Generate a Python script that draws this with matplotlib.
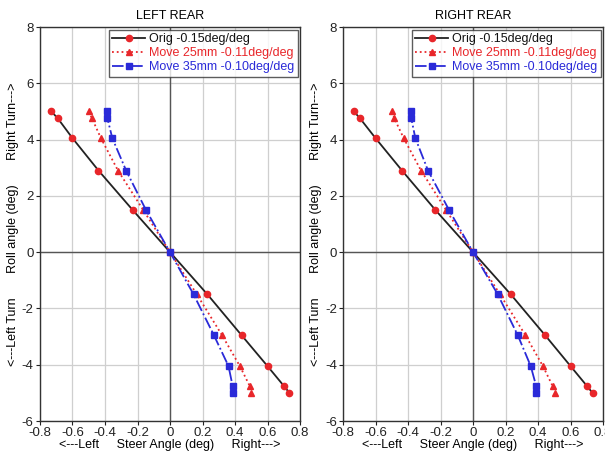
import numpy as np
import matplotlib
matplotlib.use('Agg')
import matplotlib.pyplot as plt

plt.rcParams['font.family'] = ['Liberation Sans', 'DejaVu Sans']
plt.rcParams['axes.unicode_minus'] = False

# Roll angle (deg), shared by all series
roll = [5.0, 4.75, 4.05, 2.9, 1.5, 0.0, -1.5, -2.95, -4.05, -4.75, -5.0]

# Steer angle (deg), left rear
lr_orig = [-0.73, -0.69, -0.60, -0.44, -0.23, 0.0, 0.23, 0.44, 0.60, 0.70, 0.735]
lr_m25 = [-0.50, -0.48, -0.425, -0.32, -0.165, 0.0, 0.165, 0.32, 0.43, 0.49, 0.50]
lr_m35 = [-0.39, -0.385, -0.355, -0.27, -0.148, 0.0, 0.145, 0.27, 0.36, 0.385, 0.39]

# Steer angle (deg), right rear
rr_orig = [-0.733, -0.695, -0.60, -0.437, -0.232, 0.0, 0.232, 0.443, 0.60, 0.70, 0.735]
rr_m25 = [-0.498, -0.484, -0.427, -0.32, -0.166, 0.0, 0.166, 0.322, 0.43, 0.489, 0.505]
rr_m35 = [-0.383, -0.38, -0.355, -0.277, -0.148, 0.0, 0.152, 0.275, 0.355, 0.388, 0.39]

labels = ['Orig -0.15deg/deg', 'Move 25mm -0.11deg/deg', 'Move 35mm -0.10deg/deg']
titles = ['LEFT REAR', 'RIGHT REAR']

xticks = [-0.8, -0.6, -0.4, -0.2, 0, 0.2, 0.4, 0.6, 0.8]
xticklabels = ['-0.8', '-0.6', '-0.4', '-0.2', '0', '0.2', '0.4', '0.6', '0.8']
yticks = [-6, -4, -2, 0, 2, 4, 6, 8]

red = '#e8262a'
blue = '#2a2ad8'

fig = plt.figure(figsize=(6.05, 4.51), dpi=100)
ax_l = fig.add_axes([0.0661, 0.0665, 0.4298, 0.8736])
ax_r = fig.add_axes([0.567, 0.0665, 0.4298, 0.8736])

panels = [(ax_l, lr_orig, lr_m25, lr_m35), (ax_r, rr_orig, rr_m25, rr_m35)]

for i, (ax, orig, m25, m35) in enumerate(panels):
    ax.grid(True, color='#cfcfcf', linewidth=0.9)
    ax.set_axisbelow(True)
    ax.axhline(0, color='#555555', linewidth=1.0, zorder=1)
    ax.axvline(0, color='#555555', linewidth=1.0, zorder=1)

    ax.plot(orig, roll, '-', color='#222222', linewidth=1.3,
            marker='o', markersize=4.5, markerfacecolor=red,
            markeredgecolor=red, label=labels[0], zorder=3)
    ax.plot(m25, roll, ':', color=red, linewidth=1.3,
            marker='^', markersize=4.5, markerfacecolor=red,
            markeredgecolor=red, label=labels[1], zorder=3)
    ax.plot(m35, roll, '-.', color=blue, linewidth=1.3,
            marker='s', markersize=3.8, markerfacecolor=blue,
            markeredgecolor=blue, label=labels[2], zorder=3)

    ax.set_xlim(-0.8, 0.8)
    ax.set_ylim(-6, 8)
    ax.set_xticks(xticks)
    ax.set_xticklabels(xticklabels)
    ax.set_yticks(yticks)
    ax.tick_params(labelsize=9.5, length=3, pad=1.5, colors='#222222')
    for s in ax.spines.values():
        s.set_color('#333333')
        s.set_linewidth(1.0)

    ax.set_title(titles[i], fontsize=9, pad=6)
    ax.set_xlabel('<---Left     Steer Angle (deg)     Right--->', fontsize=9, labelpad=0)
    ax.set_ylabel('<---Left Turn       Roll angle (deg)       Right Turn--->', fontsize=9, labelpad=2)

    leg = ax.legend(loc='upper right', fontsize=9, frameon=True, fancybox=False,
                    borderpad=0.3, labelspacing=0.15, handlelength=2.6,
                    handletextpad=0.3, borderaxespad=0.2)
    leg.get_frame().set_edgecolor('#333333')
    leg.get_frame().set_linewidth(1.0)
    for txt, c in zip(leg.get_texts(), ['#111111', red, blue]):
        txt.set_color(c)

fig.savefig('out.png', dpi=100)
